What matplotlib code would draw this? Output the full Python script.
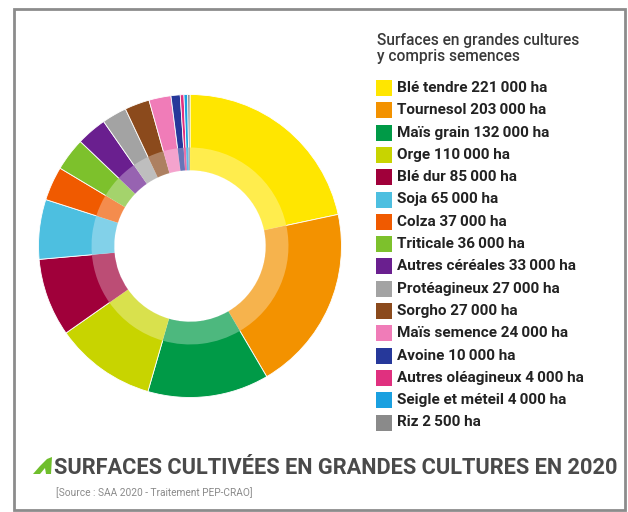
import numpy as np
import matplotlib.pyplot as plt
from matplotlib.colors import to_rgb
from matplotlib.patches import Rectangle, Polygon

cultures = ["Blé tendre", "Tournesol", "Maïs grain", "Orge", "Blé dur", "Soja",
            "Colza", "Triticale", "Autres céréales", "Protéagineux", "Sorgho",
            "Maïs semence", "Avoine", "Autres oléagineux", "Seigle et méteil", "Riz"]
surfaces = [221000, 203000, 132000, 110000, 85000, 65000, 37000, 36000,
            33000, 27000, 27000, 24000, 10000, 4000, 4000, 2500]
colors = ["#FFE600", "#F39200", "#009A47", "#C8D400", "#A0003A", "#4DBFE0",
          "#F05A00", "#7DC12C", "#6A1F8F", "#A3A3A3", "#8B4A1C", "#F07CB8",
          "#26389A", "#E0307F", "#1AA0E0", "#8A8A8A"]
labels = [c + " " + f"{v:,}".replace(",", "\u2009") + " ha" for c, v in zip(cultures, surfaces)]

W, H = 628, 512
fig = plt.figure(figsize=(W / 100, H / 100), dpi=100)
fig.patch.set_facecolor("white")


def fx(px):
    return px / W


def fy(py):
    return 1 - py / H


# frame
fig.patches.append(Rectangle((fx(14), fy(510)), fx(611), (510 - 9) / H, transform=fig.transFigure,
                             fill=False, edgecolor="#8c8c8c", lw=2))

# donut
cx, cy, r = 190, 246, 153
ax = fig.add_axes([fx(cx - r), fy(cy + r), 2 * r / W, 2 * r / H])
ax.pie(surfaces, colors=colors, startangle=90, counterclock=False, radius=1,
       wedgeprops=dict(width=0.5, edgecolor="white", linewidth=0.6))
light = [tuple(0.68 * np.array(to_rgb(c)) + 0.32) for c in colors]
ax.pie(surfaces, colors=light, startangle=90, counterclock=False, radius=0.65,
       wedgeprops=dict(width=0.15, edgecolor="none", alpha=0.95))
ax.set_aspect("equal")
ax.set_xlim(-1.01, 1.01)
ax.set_ylim(-1.01, 1.01)
ax.axis("off")

# legend
font = "Roboto"
fig.text(fx(377), fy(40), "Surfaces en grandes cultures", fontsize=11.2, fontweight="medium",
         color="#3a3a3a", family=font, va="center")
fig.text(fx(377), fy(57), "y compris semences", fontsize=11.2, fontweight="medium",
         color="#3a3a3a", family=font, va="center")
y0, dy = 88, 22.3
for i, (lab, col) in enumerate(zip(labels, colors)):
    yc = y0 + i * dy
    fig.patches.append(Rectangle((fx(376), fy(yc + 8)), fx(16), 16 / H,
                                 transform=fig.transFigure, color=col, lw=0))
    fig.text(fx(397), fy(yc), lab, fontsize=11, fontweight="bold", color="#222222",
             family=font, va="center")

# title
fig.patches.append(Polygon([(fx(33), fy(474)), (fx(40), fy(466)), (fx(47), fy(459)),
                            (fx(52), fy(457)), (fx(51), fy(474)), (fx(46), fy(474)),
                            (fx(45), fy(468)), (fx(40), fy(474))],
                           closed=True, transform=fig.transFigure, color="#6FBE2C", lw=0))
fig.text(fx(54), fy(468), "SURFACES CULTIVÉES EN GRANDES CULTURES EN 2020",
         fontsize=15.7, fontweight="bold", color="#4a4a4a", family=font, va="center")
fig.text(fx(56), fy(493), "[Source : SAA 2020 - Traitement PEP-CRAO]", fontsize=7.3,
         color="#8a8a8a", family=font, va="center")

fig.savefig("out.png", dpi=100, facecolor="white")
